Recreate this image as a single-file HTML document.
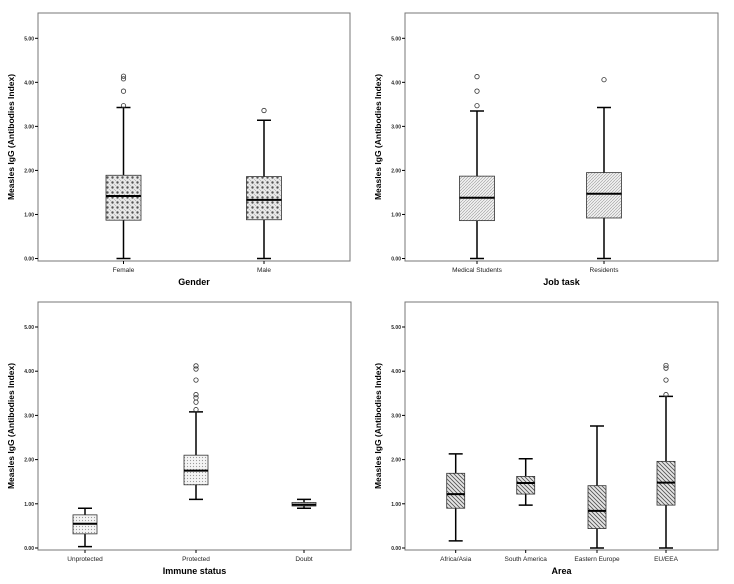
<!DOCTYPE html>
<html><head><meta charset="utf-8"><style>
body{margin:0;background:#fff;}
svg{display:block;font-family:"Liberation Sans",sans-serif;}
</style></head><body>
<svg id="chart" width="734" height="584" viewBox="0 0 734 584">
<defs>
<pattern id="pCross" width="5" height="5" patternUnits="userSpaceOnUse"><rect width="5" height="5" fill="#e8e8e8"/><circle cx="2.5" cy="2.5" r="1.2" fill="#555"/><circle cx="0" cy="0" r="0.8" fill="#888"/><circle cx="5" cy="5" r="0.8" fill="#888"/></pattern>
<pattern id="pFine" width="3" height="3" patternUnits="userSpaceOnUse"><rect width="3" height="3" fill="#f0f0f0"/><path d="M0,3 L3,0" stroke="#999" stroke-width="0.6"/></pattern>
<pattern id="pDots" width="3" height="3" patternUnits="userSpaceOnUse"><rect width="3" height="3" fill="#f4f4f4"/><circle cx="1.5" cy="1.5" r="0.6" fill="#999"/></pattern>
<pattern id="pHatch" width="4" height="4" patternUnits="userSpaceOnUse"><rect width="4" height="4" fill="#e6e6e6"/><path d="M0,0 L4,4 M-1,3 L1,5 M3,-1 L5,1" stroke="#555" stroke-width="0.9"/></pattern>
</defs>
</svg>
<script>
// Panel 1: Gender
const genderCats=["Female","Male"];
const genderQ1=[0.87,0.88],genderMed=[1.42,1.33],genderQ3=[1.89,1.86],genderLo=[0,0],genderHi=[3.43,3.14];
const genderOut=[[3.47,3.8,4.08,4.14],[3.36]];
// Panel 2: Job task
const jobCats=["Medical Students","Residents"];
const jobQ1=[0.86,0.92],jobMed=[1.38,1.47],jobQ3=[1.87,1.95],jobLo=[0,0],jobHi=[3.35,3.43];
const jobOut=[[3.47,3.8,4.13],[4.06]];
// Panel 3: Immune status
const immCats=["Unprotected","Protected","Doubt"];
const immQ1=[0.32,1.43,0.95],immMed=[0.55,1.75,0.98],immQ3=[0.75,2.1,1.03],immLo=[0.03,1.1,0.9],immHi=[0.9,3.08,1.1];
const immOut=[[],[3.13,3.3,3.4,3.47,3.8,4.05,4.12],[]];
// Panel 4: Area
const areaCats=["Africa/Asia","South America","Eastern Europe","EU/EEA"];
const areaQ1=[0.9,1.22,0.44,0.97],areaMed=[1.22,1.47,0.84,1.48],areaQ3=[1.69,1.62,1.41,1.96],areaLo=[0.16,0.97,0,0],areaHi=[2.13,2.02,2.76,3.43];
const areaOut=[[],[],[],[3.47,3.8,4.07,4.13]];
const yTicks=[0,1,2,3,4,5];
const yTickLabels=["0.00","1.00","2.00","3.00","4.00","5.00"];

const svg=document.getElementById('chart');
const NS='http://www.w3.org/2000/svg';
function mk(tag,attrs,parent){const e=document.createElementNS(NS,tag);for(const k in attrs)e.setAttribute(k,attrs[k]);(parent||svg).appendChild(e);return e;}

function panel(cfg){
  const g=mk('g',{});
  
  
  const y=v=>cfg.y0-v*(cfg.y0-cfg.y5)/5;
  const fr=mk('rect',{x:cfg.L,y:cfg.T,width:cfg.R-cfg.L,height:cfg.B-cfg.T,fill:'#fff',stroke:'#777','stroke-width':1},g);
  
  
  yTicks.forEach((t,i)=>{
    const yy=y(t);
    mk('line',{x1:cfg.L-3,x2:cfg.L,y1:yy,y2:yy,stroke:'#000','stroke-width':1},g);
    const tx=mk('text',{x:cfg.L-4,y:yy+2,'font-size':5,'font-weight':'bold','text-anchor':'end',fill:'#222'},g);
    tx.textContent=yTickLabels[i];
    
    
  });
  const yt=mk('text',{x:0,y:0,'font-size':8.5,'font-weight':'bold','text-anchor':'middle',transform:`translate(${cfg.L-24},${(cfg.T+cfg.B)/2}) rotate(-90)`},g);
  yt.textContent='Measles IgG  (Antibodies Index)';
  
  
  const xt=mk('text',{x:(cfg.L+cfg.R)/2,y:cfg.B+24,'font-size':9,'font-weight':'bold','text-anchor':'middle'},g);
  xt.textContent=cfg.title;
  
  
  cfg.cats.forEach((c,i)=>{
    const cx=cfg.cx[i],hw=cfg.bw/2;
    mk('line',{x1:cx,x2:cx,y1:cfg.B,y2:cfg.B+3,stroke:'#000'},g);
    const lb=mk('text',{x:cx,y:cfg.B+11,'font-size':6.5,'text-anchor':'middle',fill:'#222'},g);
    lb.textContent=c;
    
    
    const wk=mk('path',{d:`M${cx},${y(cfg.lo[i])}V${y(cfg.q1[i])}M${cx},${y(cfg.q3[i])}V${y(cfg.hi[i])}M${cx-7},${y(cfg.lo[i])}H${cx+7}M${cx-7},${y(cfg.hi[i])}H${cx+7}`,stroke:'#000','stroke-width':1.5,fill:'none'},g);
    
    
    const bx=mk('rect',{x:cx-hw,y:y(cfg.q3[i]),width:cfg.bw,height:y(cfg.q1[i])-y(cfg.q3[i]),fill:`url(#${cfg.pat})`,stroke:'#333','stroke-width':0.8},g);
    
    
    const md=mk('line',{x1:cx-hw,x2:cx+hw,y1:y(cfg.med[i]),y2:y(cfg.med[i]),stroke:'#000','stroke-width':2},g);
    
    
    cfg.out[i].forEach(v=>{
      const o=mk('circle',{cx:cx,cy:y(v),r:2.2,fill:'none',stroke:'#333','stroke-width':0.8},g);
      
      
    });
  });
}
panel({name:'gender-panel',L:38,R:350,T:13,B:261,y0:258.5,y5:38.3,title:'Gender',cats:genderCats,cx:[123.5,264],bw:35,pat:'pCross',q1:genderQ1,med:genderMed,q3:genderQ3,lo:genderLo,hi:genderHi,out:genderOut});
panel({name:'job-task-panel',L:405,R:718,T:13,B:261,y0:258.5,y5:38.3,title:'Job task',cats:jobCats,cx:[477,604],bw:35,pat:'pFine',q1:jobQ1,med:jobMed,q3:jobQ3,lo:jobLo,hi:jobHi,out:jobOut});
panel({name:'immune-status-panel',L:38,R:351,T:302,B:550,y0:548,y5:327,title:'Immune status',cats:immCats,cx:[85,196,304],bw:24,pat:'pDots',q1:immQ1,med:immMed,q3:immQ3,lo:immLo,hi:immHi,out:immOut});
panel({name:'area-panel',L:405,R:718,T:302,B:550,y0:548,y5:327,title:'Area',cats:areaCats,cx:[455.7,525.7,597,666],bw:18,pat:'pHatch',q1:areaQ1,med:areaMed,q3:areaQ3,lo:areaLo,hi:areaHi,out:areaOut});
</script>
</body></html>
